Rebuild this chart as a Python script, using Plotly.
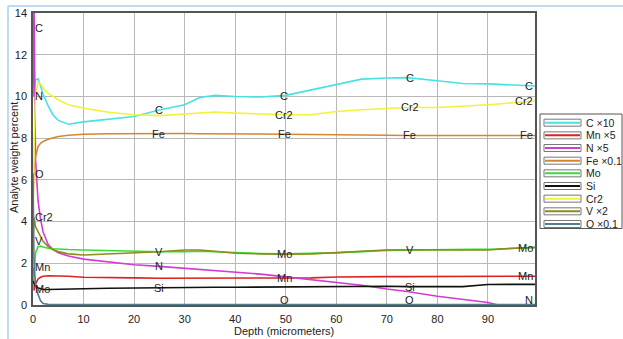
import numpy as np
import plotly.graph_objects as go

# ---------------- data ----------------
depth = [0, 0.2, 0.5, 1, 1.5, 2, 3, 4, 5, 7, 10, 15, 20, 25, 30, 33, 36, 40, 45,
         50, 55, 60, 65, 70, 74, 80, 85, 90, 92, 95, 99.3]

c_x10 = [13.3, 10.4, 10.8, 10.85, 10.5, 10.1, 9.55, 9.1, 8.85, 8.67, 8.78, 8.92, 9.04, 9.35, 9.6,
         9.95, 10.05, 10.0, 9.97, 10.05, 10.3, 10.56, 10.83, 10.88, 10.9, 10.75, 10.62, 10.6, 10.58,
         10.55, 10.5]
mn_x5 = [1.8, 0.7, 1.0, 1.25, 1.33, 1.38, 1.4, 1.4, 1.4, 1.38, 1.33, 1.3, 1.3, 1.28, 1.28,
         1.28, 1.28, 1.28, 1.29, 1.3, 1.3, 1.34, 1.36, 1.36, 1.36, 1.37, 1.37, 1.37, 1.38, 1.38, 1.38]
n_x5 = [10.0, 14.5, 7.0, 5.0, 4.1, 3.5, 2.9, 2.65, 2.5, 2.35, 2.2, 2.05, 1.93, 1.85, 1.76,
        1.73, 1.67, 1.6, 1.48, 1.35, 1.22, 1.08, 0.95, 0.77, 0.65, 0.42, 0.28, 0.12, 0.0, 0.0, 0.0]
fe_x01 = [5.0, 6.5, 7.1, 7.6, 7.75, 7.84, 7.95, 8.02, 8.08, 8.14, 8.19, 8.21, 8.22, 8.22, 8.22,
          8.21, 8.2, 8.2, 8.2, 8.19, 8.17, 8.17, 8.16, 8.14, 8.13, 8.13, 8.13, 8.13, 8.13, 8.13, 8.13]
mo = [0.75, 1.6, 2.5, 2.8, 2.82, 2.78, 2.72, 2.7, 2.68, 2.66, 2.64, 2.6, 2.56, 2.55, 2.55,
      2.58, 2.55, 2.5, 2.47, 2.45, 2.47, 2.5, 2.56, 2.62, 2.63, 2.64, 2.65, 2.66, 2.68, 2.72, 2.75]
si = [1.15, 1.05, 0.92, 0.82, 0.77, 0.75, 0.74, 0.75, 0.75, 0.76, 0.78, 0.8, 0.82, 0.83, 0.84,
      0.84, 0.85, 0.85, 0.86, 0.86, 0.87, 0.88, 0.89, 0.9, 0.88, 0.88, 0.88, 0.98, 0.99, 0.99, 0.99]
cr2 = [4.2, 7.5, 10.0, 10.7, 10.6, 10.4, 10.15, 10.0, 9.84, 9.6, 9.44, 9.24, 9.12, 9.08, 9.15,
       9.22, 9.25, 9.2, 9.15, 9.12, 9.12, 9.28, 9.36, 9.43, 9.47, 9.47, 9.52, 9.6, 9.64, 9.7, 9.78]
v_x2 = [3.05, 4.2, 3.75, 3.5, 3.25, 3.05, 2.8, 2.65, 2.56, 2.45, 2.4, 2.44, 2.48, 2.55, 2.64,
        2.64, 2.58, 2.48, 2.45, 2.43, 2.45, 2.51, 2.58, 2.64, 2.65, 2.64, 2.64, 2.64, 2.68, 2.72, 2.77]
o_x01 = [6.3, 2.0, 1.0, 0.5, 0.2, 0.07, 0.03, 0.02, 0.02, 0.02, 0.02, 0.02, 0.02, 0.02, 0.02,
         0.02, 0.02, 0.02, 0.02, 0.02, 0.02, 0.02, 0.02, 0.02, 0.02, 0.02, 0.02, 0.02, 0.02, 0.02, 0.02]

series_names = ["C \u00d710", "Mn \u00d75", "N \u00d75", "Fe \u00d70.1", "Mo", "Si", "Cr2", "V \u00d72", "O \u00d70.1"]
series_short = ["C", "Mn", "N", "Fe", "Mo", "Si", "Cr2", "V", "O"]
series_values = [c_x10, mn_x5, n_x5, fe_x01, mo, si, cr2, v_x2, o_x01]
series_colors = ["#45e3e3", "#dd2222", "#d23cd2", "#d5872f", "#35dd35", "#111111", "#f2f23c", "#8c8c18", "#4f7e8c"]

# which element labels are printed at each quarter of the depth range
label_fractions = [0.0, 0.25, 0.5, 0.75, 1.0]
label_sets = [
    ["C", "N", "O", "Cr2", "V", "Mn", "Mo"],
    ["C", "Fe", "V", "N", "Si"],
    ["C", "Cr2", "Fe", "Mo", "Mn", "O"],
    ["C", "Cr2", "Fe", "V", "Si", "O"],
    ["C", "Cr2", "Fe", "Mo", "Mn", "N"],
]

x_ticks = [0, 10, 20, 30, 40, 50, 60, 70, 80, 90]
y_ticks = [0, 2, 4, 6, 8, 10, 12, 14]
x_title = "Depth (micrometers)"
y_title = "Analyte weight percent"

# ---------------- figure ----------------
W, H = 623, 339
L, R, T, B = 33, 535, 13, 305
FONT = "Liberation Sans"
TXT = "#222222"


def px2x(px):
    return (px - L) / (R - L)


def py2y(py):
    return (B - py) / (B - T)


fig = go.Figure()
for name, vals, col in zip(series_names, series_values, series_colors):
    fig.add_trace(go.Scatter(x=depth, y=vals, mode="lines", name=name,
                             line=dict(color=col, width=1.6), showlegend=False,
                             hoverinfo="skip"))

xmax = depth[-1]
annotations = []
for frac, names in zip(label_fractions, label_sets):
    xpos = frac * xmax
    for nm in names:
        vals = series_values[series_short.index(nm)]
        yv = float(np.interp(xpos, depth, vals)) if frac > 0 else vals[0]
        yv = max(yv, 0.25)
        anchor = "left" if frac == 0 else ("right" if frac == 1 else "center")
        annotations.append(dict(x=xpos, y=yv, xref="x", yref="y", text=nm, showarrow=False,
                                xanchor=anchor, yanchor="middle",
                                font=dict(family=FONT, size=11, color=TXT)))

# axis titles
annotations.append(dict(x=px2x(284), y=py2y(331), xref="paper", yref="paper", text=x_title,
                        showarrow=False, xanchor="center", yanchor="middle",
                        font=dict(family=FONT, size=11, color=TXT)))
annotations.append(dict(x=px2x(14), y=py2y(158), xref="paper", yref="paper", text=y_title,
                        showarrow=False, xanchor="center", yanchor="middle", textangle=-90,
                        font=dict(family=FONT, size=11, color=TXT)))

# custom legend (box with line-icons and texts)
shapes = []
leg_top, leg_bot = 114, 228.5
shapes.append(dict(type="rect", xref="paper", yref="paper",
                   x0=px2x(540), x1=px2x(622), y0=py2y(leg_bot), y1=py2y(leg_top),
                   line=dict(color="#555555", width=1), fillcolor="white", layer="above"))
for i, (name, col) in enumerate(zip(series_names, series_colors)):
    yc = 122.7 + i * 12.66
    shapes.append(dict(type="rect", xref="paper", yref="paper",
                       x0=px2x(544), x1=px2x(581), y0=py2y(yc + 3.5), y1=py2y(yc - 3.5),
                       line=dict(color="#777777", width=1), fillcolor="white", layer="above"))
    shapes.append(dict(type="line", xref="paper", yref="paper",
                       x0=px2x(545), x1=px2x(580), y0=py2y(yc), y1=py2y(yc),
                       line=dict(color=col, width=2), layer="above"))
    annotations.append(dict(x=px2x(584), y=py2y(yc), xref="paper", yref="paper", text=name,
                            showarrow=False, xanchor="left", yanchor="middle",
                            font=dict(family=FONT, size=10.5, color=TXT)))

# window frame (light blue)
shapes.append(dict(type="line", xref="paper", yref="paper", x0=px2x(8), x1=px2x(623),
                   y0=py2y(6), y1=py2y(6), line=dict(color="#a9d0f2", width=1.5)))
shapes.append(dict(type="line", xref="paper", yref="paper", x0=px2x(8), x1=px2x(8),
                   y0=py2y(6), y1=py2y(339), line=dict(color="#a9d0f2", width=1.5)))

fig.update_layout(
    width=W, height=H,
    margin=dict(l=L, r=W - R, t=T, b=H - B, autoexpand=False),
    paper_bgcolor="white", plot_bgcolor="white",
    font=dict(family=FONT, size=11, color=TXT),
    showlegend=False,
    annotations=annotations, shapes=shapes,
    xaxis=dict(range=[0, xmax], tickvals=x_ticks, ticktext=[str(t) for t in x_ticks],
               showgrid=True, gridcolor="#b8b8b8", gridwidth=1, zeroline=False,
               showline=True, linecolor="#555555", linewidth=1.5, mirror=True,
               ticks="outside", ticklen=3, tickcolor="rgba(0,0,0,0)", automargin=False),
    yaxis=dict(range=[0, 14], tickvals=y_ticks, ticktext=[str(t) for t in y_ticks],
               showgrid=True, gridcolor="#b8b8b8", gridwidth=1, zeroline=False,
               showline=True, linecolor="#555555", linewidth=1.5, mirror=True,
               ticks="outside", ticklen=2, tickcolor="rgba(0,0,0,0)", automargin=False),
)

fig.write_html("out.html", config={"displayModeBar": False},
               post_script="document.body.style.margin='0';document.body.style.overflow='hidden';")
